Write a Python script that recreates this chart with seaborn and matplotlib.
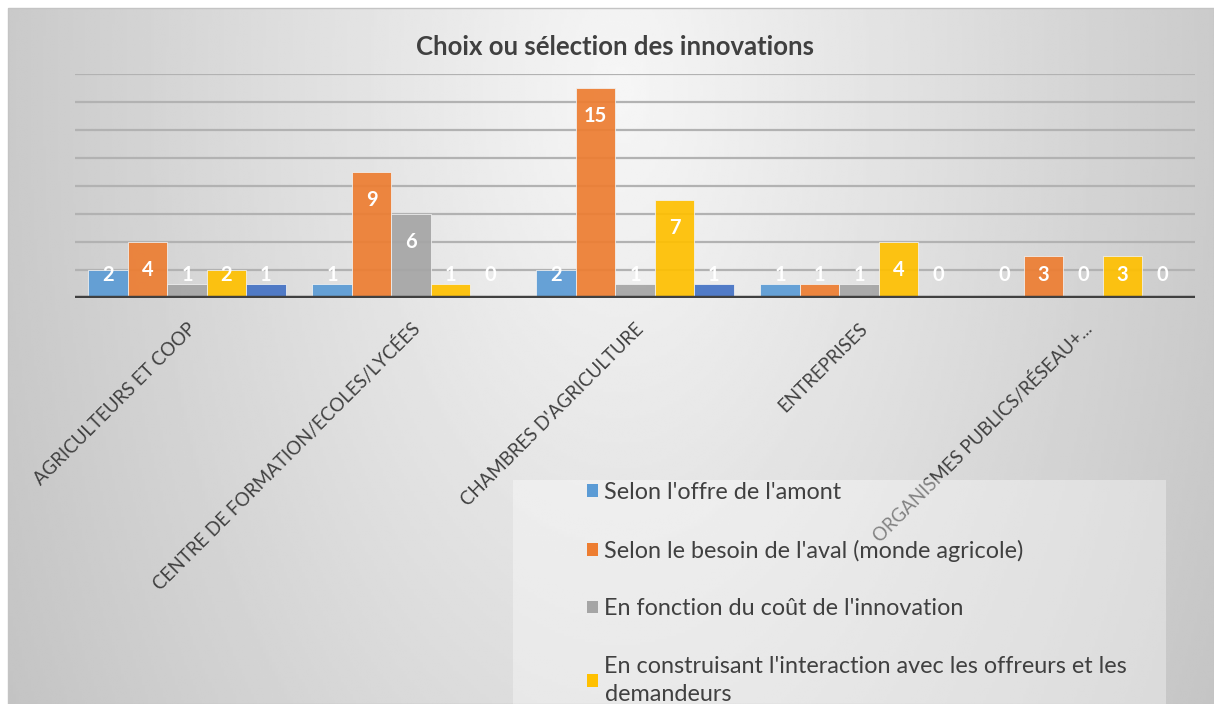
import numpy as np
import pandas as pd
import matplotlib
matplotlib.use('Agg')
import matplotlib.pyplot as plt
import matplotlib.transforms as mtransforms
from matplotlib.patches import Patch, Rectangle
import seaborn as sns

# --- data ---
categories = ['AGRICULTEURS ET COOP',
              'CENTRE DE FORMATION/ECOLES/LYCÉES',
              "CHAMBRES D'AGRICULTURE",
              'ENTREPRISES',
              'ORGANISMES PUBLICS/RÉSEAU+...']
series = ["Selon l'offre de l'amont",
          "Selon le besoin de l'aval (monde agricole)",
          "En fonction du coût de l'innovation",
          "En construisant l'interaction avec les offreurs et les\ndemandeurs",
          "Autre"]  # 5th series: legend entry is cut off in the reference
amont = [2, 1, 2, 1, 0]
aval = [4, 9, 15, 1, 3]
cout = [1, 6, 1, 1, 0]
interaction = [2, 1, 7, 4, 3]
autre = [1, 0, 1, 0, 0]

colors = ['#5B9BD5', '#ED7D31', '#A5A5A5', '#FFC000', '#4472C4']
TXT = '#404040'

rows = []
for s, vals in zip(series, [amont, aval, cout, interaction, autre]):
    for c, v in zip(categories, vals):
        rows.append({'categorie': c, 'serie': s, 'valeur': v})
df = pd.DataFrame(rows)

sns.set_style('white')
plt.rcParams['font.family'] = ['Lato', 'DejaVu Sans']

W, H = 1214, 704
fig = plt.figure(figsize=(W / 100, H / 100), dpi=100)
fig.patch.set_facecolor('white')

# background gradient of the chart area
bg = fig.add_axes([8 / W, 0, 1 - 8 / W, 1 - 8 / H], zorder=-2)
xs = np.linspace(8, W, 400)
ys = np.linspace(8, H, 240)
X, Y = np.meshgrid(xs, ys)
r = np.sqrt(((X - 620) / 600) ** 2 + ((Y - 90) / 1100) ** 2)
g = np.clip(0.965 - 0.17 * r, 0, 1)
bg.imshow(g, cmap='gray', vmin=0, vmax=1, aspect='auto',
          extent=[0, 1, 0, 1], interpolation='bilinear')
bg.set_xlim(0, 1); bg.set_ylim(0, 1)
bg.axis('off')
fig.patches.append(Rectangle((8 / W, 0), 1 - 8 / W, 1 - 8 / H, transform=fig.transFigure,
                             fill=False, edgecolor='#c4c4c4', linewidth=1.0, zorder=-1))

# main plot area
ax = fig.add_axes([75 / W, 1 - 298 / H, 1120 / W, 224 / H])
ax.set_facecolor('none')
sns.barplot(data=df, x='categorie', y='valeur', hue='serie', palette=colors,
            width=0.88, saturation=1, ax=ax, legend=False,
            edgecolor='#f2f2f2', linewidth=0.6, alpha=0.92)
ax.set_xlim(-0.5, 4.5)
ax.set_ylim(0, 16)
ax.set_yticks(range(0, 17, 2))
ax.set_yticklabels([])
ax.yaxis.grid(True, color='#b2b2b2', linewidth=1.6)
ax.set_axisbelow(True)
ax.set_xticks(range(len(categories)))
ax.set_xticklabels([])
ax.tick_params(length=0)
ax.set_xlabel('')
ax.set_ylabel('')
for sp in ax.spines.values():
    sp.set_visible(False)
ax.axhline(0, color='#404040', linewidth=3.2, zorder=3)

# data labels
for cont in ax.containers:
    for bar in cont:
        v = bar.get_height()
        xc = bar.get_x() + bar.get_width() / 2
        ax.text(xc, max(v - 2, 1.65), f'{int(round(v))}', ha='center', va='center',
                color='white', fontweight='bold', fontsize=14.5, zorder=4)

# rotated category labels
trans = mtransforms.blended_transform_factory(ax.transData, ax.transAxes)
off = mtransforms.ScaledTranslation(6 / 100, -28 / 100, fig.dpi_scale_trans)
for i, c in enumerate(categories):
    ax.text(i, 0, c, transform=trans + off, rotation=45, rotation_mode='anchor',
            ha='right', va='center', fontsize=13.4, color=TXT, clip_on=False)

# title
fig.text(615 / W, 1 - 47 / H, 'Choix ou sélection des innovations', ha='center', va='center',
         fontsize=18.5, fontweight='bold', color=TXT)

# legend box (semi-transparent, overlays the last category label)
fig.patches.append(Rectangle((513 / W, 0), (1166 - 513) / W, 1 - 480 / H,
                             transform=fig.transFigure, facecolor='white', alpha=0.35,
                             edgecolor='none', zorder=1))
handles = [Patch(facecolor=c, edgecolor='none') for c in colors[:4]]
leg = fig.legend(handles, series[:4], loc='upper left', bbox_to_anchor=(587 / W, 1 - 482 / H),
                 frameon=False, fontsize=16.8, handlelength=0.45, handleheight=0.45,
                 handletextpad=0.3, labelspacing=1.57, borderpad=0, borderaxespad=0,
                 labelcolor=TXT)
for t in leg.get_texts():
    t.set_linespacing(1.4)

fig.savefig('out.png', dpi=100)
